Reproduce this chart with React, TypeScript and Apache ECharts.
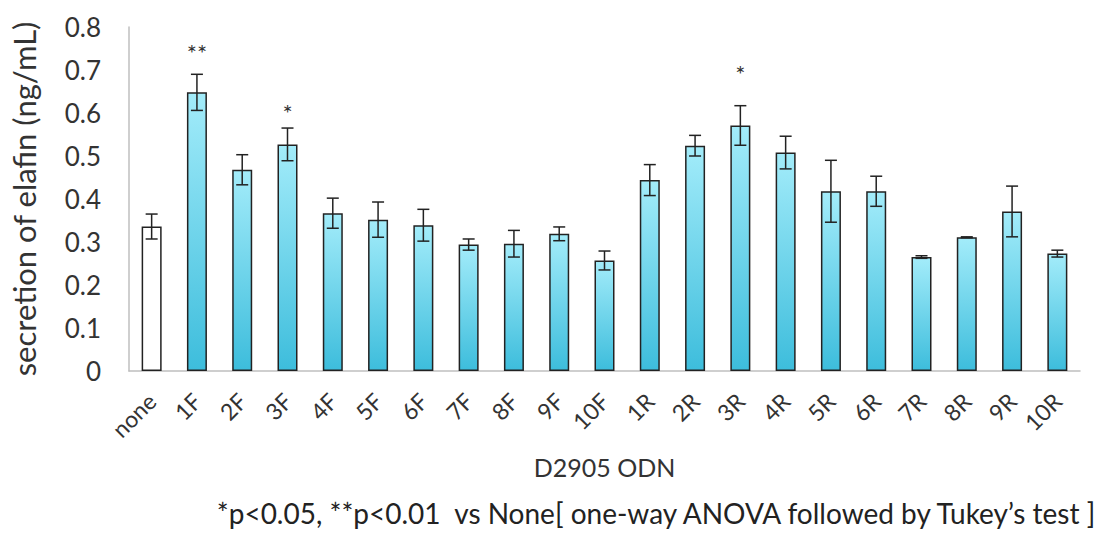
import React, { useEffect, useRef } from "react";
import * as echarts from "echarts";

const categories = ["none","1F","2F","3F","4F","5F","6F","7F","8F","9F","10F","1R","2R","3R","4R","5R","6R","7R","8R","9R","10R"];
const means = [0.336,0.648,0.468,0.527,0.367,0.352,0.339,0.294,0.296,0.319,0.257,0.444,0.524,0.571,0.508,0.418,0.418,0.265,0.311,0.371,0.273];
const errors = [0.029,0.042,0.035,0.038,0.035,0.041,0.037,0.013,0.031,0.016,0.022,0.036,0.024,0.046,0.038,0.072,0.035,0.003,0.001,0.059,0.008];
const stars = ["","**","","*","","","","","","","","","","*","","","","","","",""];
const starHeights = [0,0.747,0,0.608,0,0,0,0,0,0,0,0,0,0.700,0,0,0,0,0,0,0];
const yTicks = [0,0.1,0.2,0.3,0.4,0.5,0.6,0.7,0.8];

const FONT = "Lato, 'Noto Sans', sans-serif";

export default function App() {
  const ref = useRef<HTMLDivElement>(null);
  useEffect(() => {
    if (!ref.current) return;
    const chart = echarts.init(ref.current, null, { renderer: "svg" });
    const gradient = new echarts.graphic.LinearGradient(0, 0, 0, 1, [
      { offset: 0, color: "#a3ecfa" },
      { offset: 1, color: "#3dbddc" },
    ]);
    const barData = means.map((v, i) =>
      i === 0
        ? { value: v, itemStyle: { color: "#ffffff" } }
        : { value: v, itemStyle: { color: gradient } }
    );
    chart.setOption({
      animation: false,
      grid: { left: 118, right: 26, top: 27, bottom: 162, containLabel: false },
      xAxis: {
        type: "category",
        data: categories,
        axisLine: { show: true, lineStyle: { color: "#bfbfbf", width: 1.5 } },
        axisTick: { show: false },
        axisLabel: {
          rotate: 45,
          interval: 0,
          color: "#333",
          fontSize: 23,
          fontFamily: FONT,
          margin: 26,
        },
        name: "D2905 ODN",
        nameLocation: "middle",
        nameGap: 83,
        nameTextStyle: { color: "#333", fontSize: 25, fontFamily: FONT },
      },
      yAxis: {
        type: "value",
        min: 0,
        max: 0.8,
        interval: 0.1,
        axisLine: { show: true, lineStyle: { color: "#bfbfbf", width: 1.5 } },
        axisTick: { show: false },
        splitLine: { show: false },
        axisLabel: {
          color: "#333",
          fontSize: 26,
          fontFamily: FONT,
          margin: 28,
          formatter: (v: number) => (yTicks.some((t) => Math.abs(t - v) < 1e-9) ? String(+v.toFixed(1)) : ""),
        },
        name: "secretion of elafin (ng/mL)",
        nameLocation: "middle",
        nameGap: 90,
        nameTextStyle: { color: "#333", fontSize: 31, fontFamily: FONT },
      },
      series: [
        {
          type: "bar",
          data: barData,
          barWidth: 20,
          itemStyle: { borderColor: "#222", borderWidth: 1.5 },
        },
        {
          type: "custom",
          data: means.map((m, i) => [i, m - errors[i], m + errors[i]]),
          renderItem: (params: any, api: any) => {
            const x = api.value(0);
            const lo = api.coord([x, api.value(1)]);
            const hi = api.coord([x, api.value(2)]);
            const hw = 6;
            const style = { stroke: "#222", lineWidth: 1.5 };
            return {
              type: "group",
              children: [
                { type: "line", shape: { x1: lo[0], y1: lo[1], x2: hi[0], y2: hi[1] }, style },
                { type: "line", shape: { x1: hi[0] - hw, y1: hi[1], x2: hi[0] + hw, y2: hi[1] }, style },
                { type: "line", shape: { x1: lo[0] - hw, y1: lo[1], x2: lo[0] + hw, y2: lo[1] }, style },
              ],
            };
          },
          z: 10,
        },
        {
          type: "custom",
          data: starHeights.map((h, i) => [i, h]),
          renderItem: (params: any, api: any) => {
            const i = params.dataIndex;
            if (!stars[i]) return null;
            const p = api.coord([api.value(0), api.value(1)]);
            return {
              type: "text",
              x: p[0],
              y: p[1] + 3,
              style: {
                text: stars[i],
                fill: "#333",
                font: `24px ${FONT}`,
                align: "center",
                verticalAlign: "middle",
              },
            };
          },
          z: 10,
        },
      ],
      graphic: [
        {
          type: "text",
          right: 6,
          top: 499,
          style: {
            text: "*p<0.05, **p<0.01  vs None[ one-way ANOVA followed by Tukey\u2019s test ]",
            fill: "#222",
            font: `28px ${FONT}`,
          },
        },
      ],
    });
    return () => chart.dispose();
  }, []);
  return <div ref={ref} style={{ width: 1106, height: 533, position: "absolute", left: 0, top: 0 }} />;
}
